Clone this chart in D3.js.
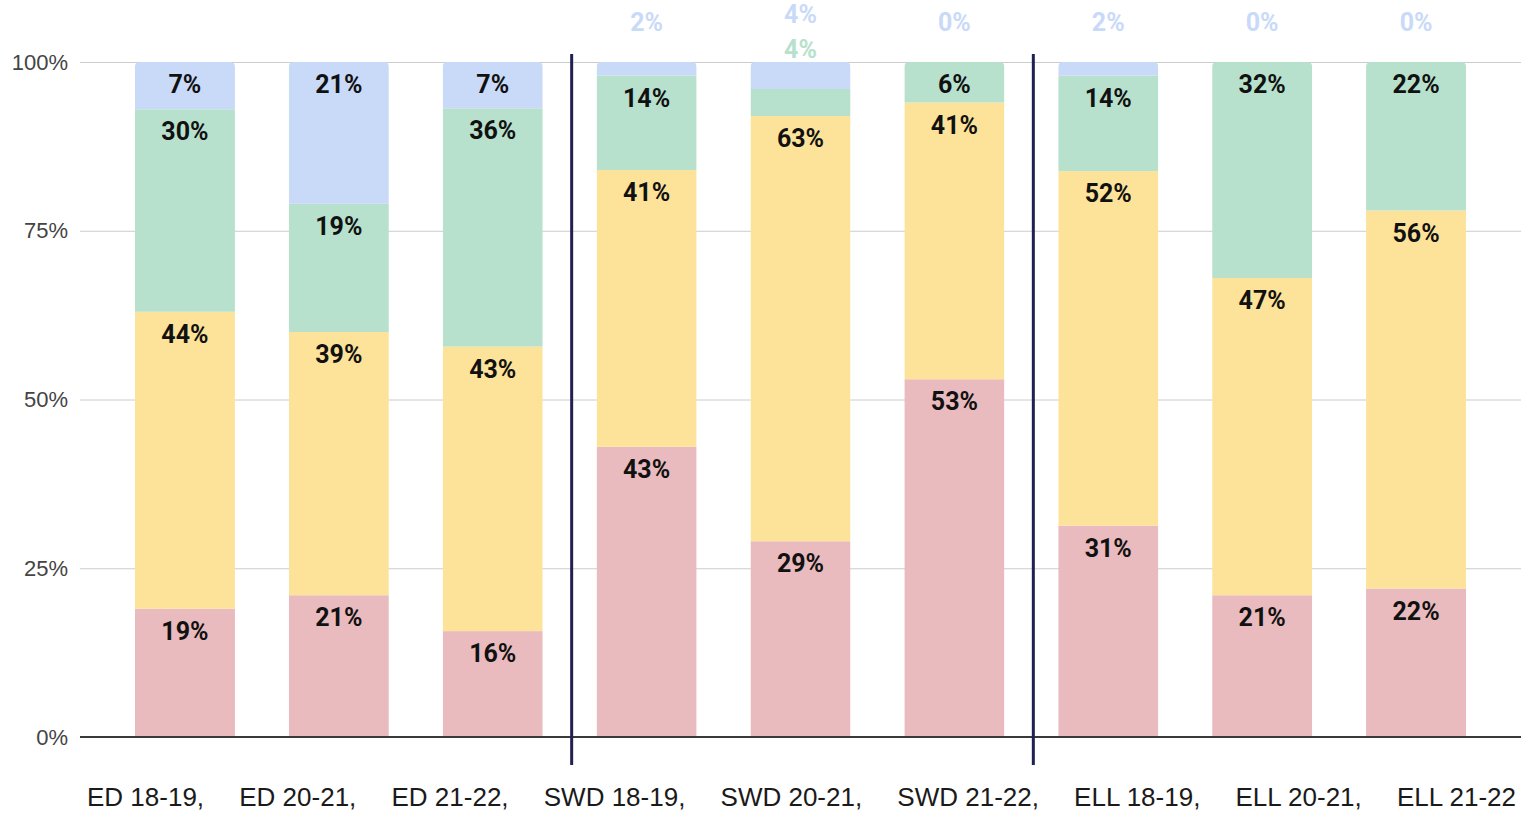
<!DOCTYPE html>
<html>
<head>
<meta charset="utf-8">
<script src="https://cdn.jsdelivr.net/npm/d3@7"></script>
<style>
  body { margin: 0; background: #fff; }
  svg { display: block; }
</style>
</head>
<body>
<div id="chart"></div>
<script>
// categories and series (percent values as labelled)
var categories = ["ED 18-19,", "ED 20-21,", "ED 21-22,", "SWD 18-19,", "SWD 20-21,",
                  "SWD 21-22,", "ELL 18-19,", "ELL 20-21,", "ELL 21-22"];
var seriesNames = ["s1", "s2", "s3", "s4"];
var s1 = [19, 21, 16, 43, 29, 53, 31, 21, 22];   // pink (bottom)
var s2 = [44, 39, 43, 41, 63, 41, 52, 47, 56];   // yellow
var s3 = [30, 19, 36, 14, 4, 6, 14, 32, 22];     // green
var s4 = [7, 21, 7, 2, 4, 0, 2, 0, 0];           // blue (top)
var tickValues = [0, 0.25, 0.5, 0.75, 1];
var separatorsAfter = ["ED 21-22,", "SWD 21-22,"];

var colors = ["#e9bbbe", "#fde399", "#b7e1cd", "#c9daf8"];

var W = 1524, H = 813;
var margin = {top: 62, right: 3, bottom: 76, left: 80},
    width = W - margin.left - margin.right,
    height = H - margin.top - margin.bottom;

var rows = categories.map(function(c, i){
  return {cat: c, s1: s1[i], s2: s2[i], s3: s3[i], s4: s4[i]};
});

var stack = d3.stack().keys(seriesNames).offset(d3.stackOffsetExpand);
var layers = stack(rows);

var x = d3.scaleBand().domain(categories).range([0, width])
          .paddingInner(0.35).paddingOuter(0.357);
var y = d3.scaleLinear().domain([0, 1]).range([height, 0]);

var svg = d3.select("#chart").append("svg").attr("width", W).attr("height", H);
var g = svg.append("g").attr("transform", "translate(" + margin.left + "," + margin.top + ")");

// grid + y labels
var yAxis = g.append("g")
  .call(d3.axisLeft(y).tickValues(tickValues).tickFormat(d3.format(".0%"))
        .tickSize(-width).tickPadding(12));
yAxis.select(".domain").remove();
yAxis.selectAll(".tick line").attr("stroke", "#cccccc").attr("stroke-width", 1);
yAxis.selectAll(".tick text")
  .attr("font-family", "'Liberation Sans', Arial, sans-serif")
  .attr("font-size", "22px").attr("fill", "#444");

// rounded top clip per bar
var defs = svg.append("defs");
var r = 5, bw = x.bandwidth();
categories.forEach(function(c, i){
  var x0 = x(c), x1 = x0 + bw, t = y(1), b = y(0);
  defs.append("clipPath").attr("id", "clip" + i)
    .append("path")
    .attr("d", "M" + x0 + "," + b + "V" + (t + r) + "Q" + x0 + "," + t + " " + (x0 + r) + "," + t +
               "H" + (x1 - r) + "Q" + x1 + "," + t + " " + x1 + "," + (t + r) + "V" + b + "Z");
});

var bars = g.selectAll(".bar").data(categories).enter().append("g")
  .attr("class", "bar").attr("clip-path", function(d, i){ return "url(#clip" + i + ")"; });

bars.each(function(c, i){
  var gb = d3.select(this);
  layers.forEach(function(layer, k){
    var d = layer[i];
    gb.append("rect")
      .attr("x", x(c)).attr("width", bw)
      .attr("y", y(d[1])).attr("height", Math.max(0, y(d[0]) - y(d[1])))
      .attr("fill", colors[k]);
  });
});

// zero line
g.append("line").attr("x1", 0).attr("x2", width).attr("y1", y(0)).attr("y2", y(0))
  .attr("stroke", "#3a3a3a").attr("stroke-width", 2);

// value labels
var labelFont = "Roboto, 'Noto Sans', sans-serif";
categories.forEach(function(c, i){
  var cx = x(c) + bw / 2;
  var outside = [];
  layers.forEach(function(layer, k){
    var d = layer[i];
    var v = rows[i][seriesNames[k]];
    var h = y(d[0]) - y(d[1]);
    if (h < 30) { outside.push({v: v, k: k}); return; }
    g.append("text")
      .attr("x", cx).attr("y", y(d[1]) + 31)
      .attr("text-anchor", "middle")
      .attr("font-family", labelFont).attr("font-weight", 700).attr("font-size", "25px")
      .attr("fill", "#111")
      .text(v + "%");
  });
  // small segments get their labels above the chart
  var offs = outside.length === 1 ? [-40] : [-13, -48];
  outside.forEach(function(o, j){
    g.append("text")
      .attr("x", cx).attr("y", y(1) + offs[j]).attr("dy", "0.36em")
      .attr("text-anchor", "middle")
      .attr("font-family", labelFont).attr("font-weight", 700).attr("font-size", "25px")
      .attr("fill", colors[o.k])
      .text(o.v + "%");
  });
});

// separators
var step = x.step();
separatorsAfter.forEach(function(c){
  var sx = x(c) + bw + (step - bw) / 2 + 2;
  g.append("line").attr("x1", sx).attr("x2", sx)
    .attr("y1", y(1) - 8).attr("y2", y(0) + 28)
    .attr("stroke", "#1f2152").attr("stroke-width", 3);
});

// category labels: laid out in a row with equal gaps
var catG = g.append("g");
var catText = catG.selectAll("text").data(categories).enter().append("text")
  .attr("y", y(0) + 69)
  .attr("font-family", "'Liberation Sans', Arial, sans-serif")
  .attr("font-size", "26px").attr("fill", "#1a1a1a")
  .text(function(d){ return d; });
var widths = [];
catText.each(function(){ widths.push(this.getComputedTextLength()); });
var startX = 7, endX = width - 5;
var gap = (endX - startX - d3.sum(widths)) / (categories.length - 1);
var cur = startX;
catText.attr("x", function(d, i){ var p = cur; cur += widths[i] + gap; return p; });
</script>
</body>
</html>
